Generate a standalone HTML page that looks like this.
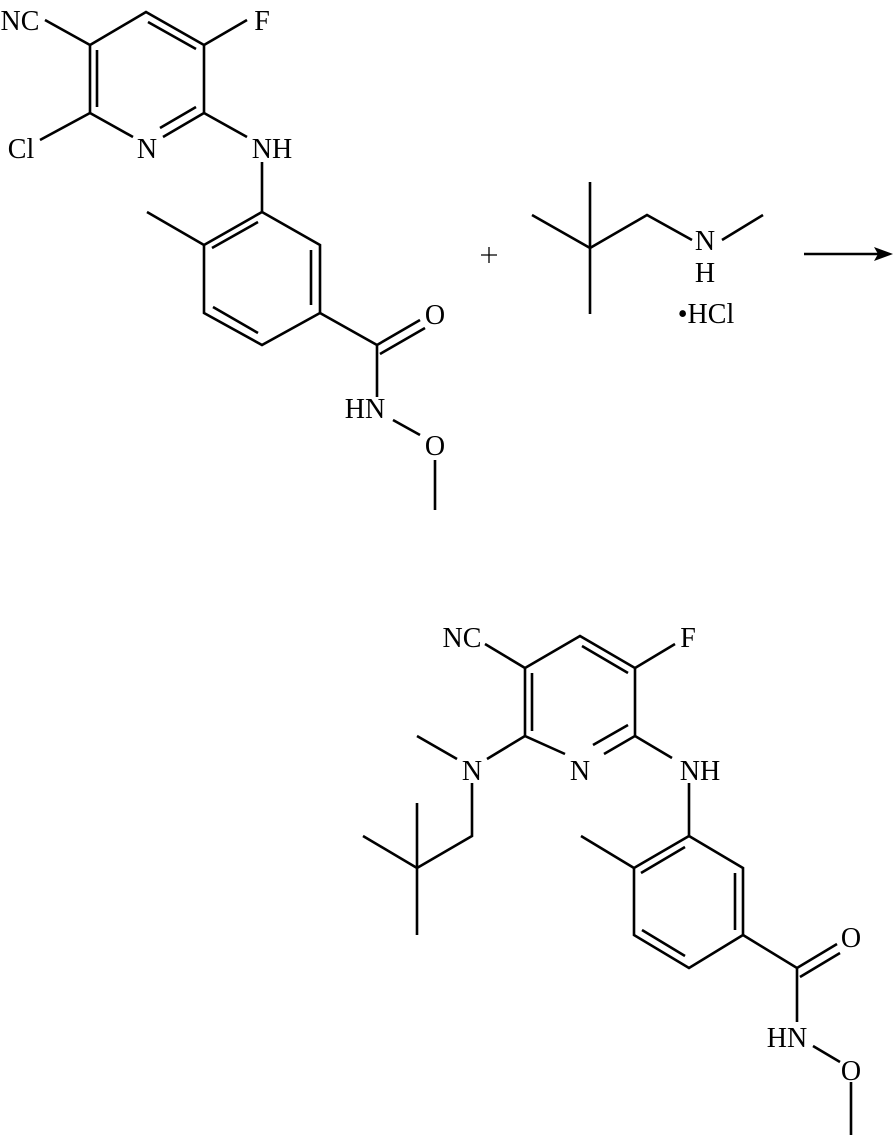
<!DOCTYPE html>
<html><head><style>body{margin:0;background:#fff}svg{display:block}text{font-family:"Liberation Serif",serif;font-size:28px;fill:#000;text-anchor:middle}</style></head>
<body>
<svg width="895" height="1135" viewBox="0 0 895 1135" xmlns="http://www.w3.org/2000/svg">
<g stroke="#000" stroke-width="2.6" fill="none">
<path d="M90,45 L146,12 L204,45 L204,113 L163,137 M133,137 L90,113 L90,45"/>
<path d="M97,50 L97,107 M148,22 L196,49 M160,128 L196,107"/>
<path d="M45,20 L90,45 M204,45 L247,20 M40,140 L90,113 M204,113 L247,137 M262,162 L262,212"/>
<path d="M262,212 L320,245 L320,313 L262,345 L204,313 L204,245 Z"/>
<path d="M212,248 L258,222 M311,250 L311,305 M213,307 L258,333 M147,212 L204,245"/>
<path d="M320,313 L377,345 L420,320 M380,354 L425,328 M377,345 L377,397 M393,420 L420,435 M435,460 L435,510"/>
<path d="M481,255 L497,255 M489,247 L489,263" stroke-width="1.3"/>
<path d="M590,182 L590,314 M532,215 L590,248 L647,215 L692,240 M722,240 L763,215"/>
<path d="M804,254 L880,254"/>
<path d="M525,668 L580,636 L635,668 L635,736 L604,754 M565,754 L525,736 L525,668"/>
<path d="M532,673 L532,731 M582,646 L628,673 M593,745 L628,725"/>
<path d="M485,644 L525,668 M635,668 L675,644 M417,736 L457,759 M487,759 L525,736 M472,783 L472,836 L417,868 L363,836 M417,803 L417,935"/>
<path d="M635,736 L672,758 M689,783 L689,836"/>
<path d="M689,836 L743,868 L743,935 L689,968 L634,935 L634,868 Z"/>
<path d="M641,873 L685,847 M735,873 L735,930 M642,930 L685,956 M581,836 L634,868"/>
<path d="M743,935 L797,968 L837,944 M800,977 L840,953 M797,968 L797,1022 M813,1046 L840,1062 M851,1082 L851,1135"/>
</g>
<path d="M893,254 L874,247 L878,254 L874,261 Z" fill="#000"/>
<text x="20" y="30">NC</text>
<text x="262" y="30">F</text>
<text x="21" y="158">Cl</text>
<text x="147" y="158">N</text>
<text x="272" y="158">NH</text>
<text x="435" y="324">O</text>
<text x="365" y="418">HN</text>
<text x="435" y="455">O</text>
<text x="705" y="250">N</text>
<text x="705" y="282">H</text>
<text x="706" y="323">•HCl</text>
<text x="462" y="647">NC</text>
<text x="688" y="647">F</text>
<text x="472" y="780">N</text>
<text x="580" y="780">N</text>
<text x="700" y="780">NH</text>
<text x="851" y="947">O</text>
<text x="787" y="1047">HN</text>
<text x="851" y="1080">O</text>
</svg>
</body></html>
